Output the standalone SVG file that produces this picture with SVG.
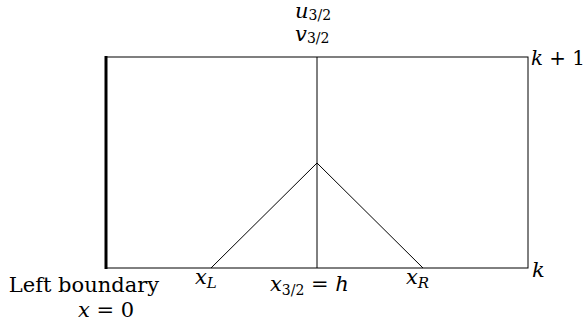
<svg xmlns="http://www.w3.org/2000/svg" width="586" height="326" viewBox="0 0 586 326" font-family="'DejaVu Serif', 'Liberation Serif', serif">
<style>
text{font-family:'DejaVu Serif','Liberation Serif',serif;font-size:21px;fill:#000}
.m{font-style:italic}
.s{font-size:14px;font-style:normal}
.si{font-size:15px;font-style:italic}
.ln{stroke:#000;stroke-width:1;fill:none}
</style>
<rect width="586" height="326" fill="#fff"/>
<g id="connectors">
<rect class="ln" x="106" y="57" width="422" height="211"/>
<line x1="106" y1="56" x2="106" y2="269" stroke="#000" stroke-width="3"/>
<line class="ln" x1="317" y1="57" x2="317" y2="268"/>
<line class="ln" x1="211" y1="268" x2="317" y2="163"/>
<line class="ln" x1="423" y1="268" x2="317" y2="163"/>
</g>
<g id="top-label">
<text x="295" y="18" font-size="19"><tspan class="m">u</tspan><tspan class="s" dy="2">3/2</tspan></text>
<text x="295" y="41" font-size="19"><tspan class="m">v</tspan><tspan class="s" dy="2">3/2</tspan></text>
</g>
<g id="k1"><text x="531" y="65" font-size="20" textLength="54" lengthAdjust="spacingAndGlyphs"><tspan class="m">k</tspan> + 1</text></g>
<g id="k"><text x="532" y="277" class="m">k</text></g>
<g id="left-boundary">
<text x="84" y="292" text-anchor="middle">Left boundary</text>
<text x="106" y="317" text-anchor="middle"><tspan class="m">x</tspan> = 0</text>
</g>
<g id="xL"><text x="195" y="284"><tspan class="m">x</tspan><tspan class="si" dy="4">L</tspan></text></g>
<g id="xh"><text x="270" y="291"><tspan class="m">x</tspan><tspan class="s" dy="4">3/2</tspan><tspan dy="-4"> = </tspan><tspan class="m">h</tspan></text></g>
<g id="xR"><text x="406" y="284"><tspan class="m">x</tspan><tspan class="si" dy="4">R</tspan></text></g>
</svg>
